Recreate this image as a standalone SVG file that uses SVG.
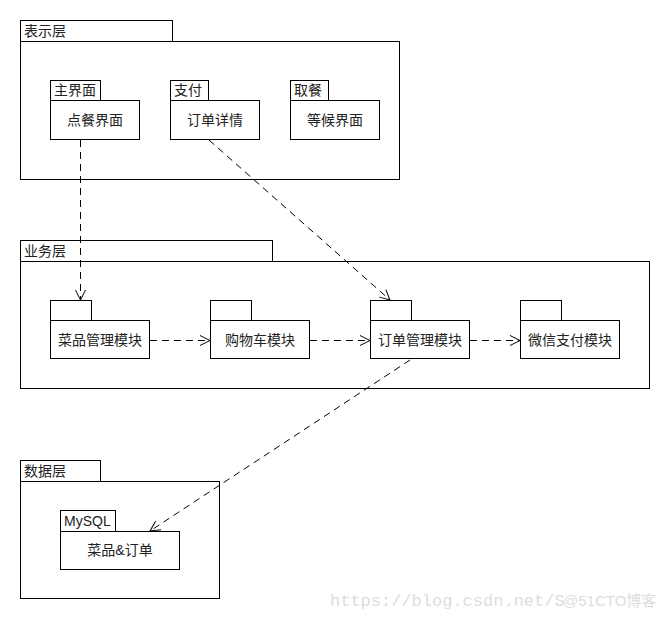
<svg xmlns="http://www.w3.org/2000/svg" width="670" height="620" viewBox="0 0 670 620">
<style>
rect{fill:#fff;stroke:#000;stroke-width:1}
text{font-family:"Liberation Sans","Noto Sans CJK SC",sans-serif;font-size:14px;fill:#222}
.c{text-anchor:middle}
.e{fill:none;stroke:#000;stroke-width:1;stroke-dasharray:7,5}
.wm{font-family:"Liberation Mono","DejaVu Sans Mono",monospace;font-size:17px;fill:#ddd}
</style>
<defs>
<marker id="a" markerWidth="12" markerHeight="12" refX="11" refY="6" orient="auto" markerUnits="userSpaceOnUse">
<path d="M1,1 L11,6 L1,11" fill="none" stroke="#000" stroke-width="1"/>
</marker>
</defs>
<rect width="670" height="620" style="fill:#fff;stroke:none"/>
<g id="layer-present">
<rect x="20.5" y="20.5" width="152" height="21"/>
<rect x="20.5" y="41.5" width="379" height="138"/>
<text x="24" y="36">表示层</text>
</g>
<g id="pkg-main">
<rect x="50.5" y="80.5" width="50" height="20"/>
<rect x="50.5" y="100.5" width="89" height="39"/>
<text x="54" y="95">主界面</text>
<text class="c" x="95" y="125">点餐界面</text>
</g>
<g id="pkg-pay">
<rect x="170.5" y="80.5" width="38" height="20"/>
<rect x="170.5" y="100.5" width="89" height="39"/>
<text x="174" y="95">支付</text>
<text class="c" x="215" y="125">订单详情</text>
</g>
<g id="pkg-take">
<rect x="290.5" y="80.5" width="38" height="20"/>
<rect x="290.5" y="100.5" width="89" height="39"/>
<text x="294" y="95">取餐</text>
<text class="c" x="335" y="125">等候界面</text>
</g>
<g id="layer-business">
<rect x="20.5" y="240.5" width="252" height="21"/>
<rect x="20.5" y="261.5" width="629" height="127"/>
<text x="24" y="256">业务层</text>
</g>
<g id="pkg-dish">
<rect x="50.5" y="300.5" width="41" height="20"/>
<rect x="50.5" y="320.5" width="99" height="38"/>
<text class="c" x="100" y="345">菜品管理模块</text>
</g>
<g id="pkg-cart">
<rect x="210.5" y="300.5" width="41" height="20"/>
<rect x="210.5" y="320.5" width="99" height="38"/>
<text class="c" x="260" y="345">购物车模块</text>
</g>
<g id="pkg-order">
<rect x="370.5" y="300.5" width="41" height="20"/>
<rect x="370.5" y="320.5" width="99" height="38"/>
<text class="c" x="420" y="345">订单管理模块</text>
</g>
<g id="pkg-wechat">
<rect x="520.5" y="300.5" width="41" height="20"/>
<rect x="520.5" y="320.5" width="99" height="38"/>
<text class="c" x="570" y="345">微信支付模块</text>
</g>
<g id="layer-data">
<rect x="20.5" y="460.5" width="80" height="21"/>
<rect x="20.5" y="481.5" width="199" height="117"/>
<text x="24" y="476">数据层</text>
</g>
<g id="pkg-mysql">
<rect x="60.5" y="510.5" width="55" height="21"/>
<rect x="60.5" y="531.5" width="119" height="38"/>
<text x="64" y="526">MySQL</text>
<text class="c" x="120" y="555">菜品&amp;订单</text>
</g>
<g id="connectors">
<path class="e" d="M80.5,140 L80.5,300" marker-end="url(#a)"/>
<path class="e" d="M209,140 L390,300" marker-end="url(#a)"/>
<path class="e" d="M150,340.5 L210,340.5" marker-end="url(#a)"/>
<path class="e" d="M310,340.5 L370,340.5" marker-end="url(#a)"/>
<path class="e" d="M470,340.5 L520,340.5" marker-end="url(#a)"/>
<path class="e" d="M410,360 L150,531" marker-end="url(#a)"/>
</g>
<text class="wm" x="330" y="606">https://blog.csdn.net/S</text>
<text x="563" y="606" style="font-size:15px;fill:#ddd">@51CTO博客</text>
</svg>
